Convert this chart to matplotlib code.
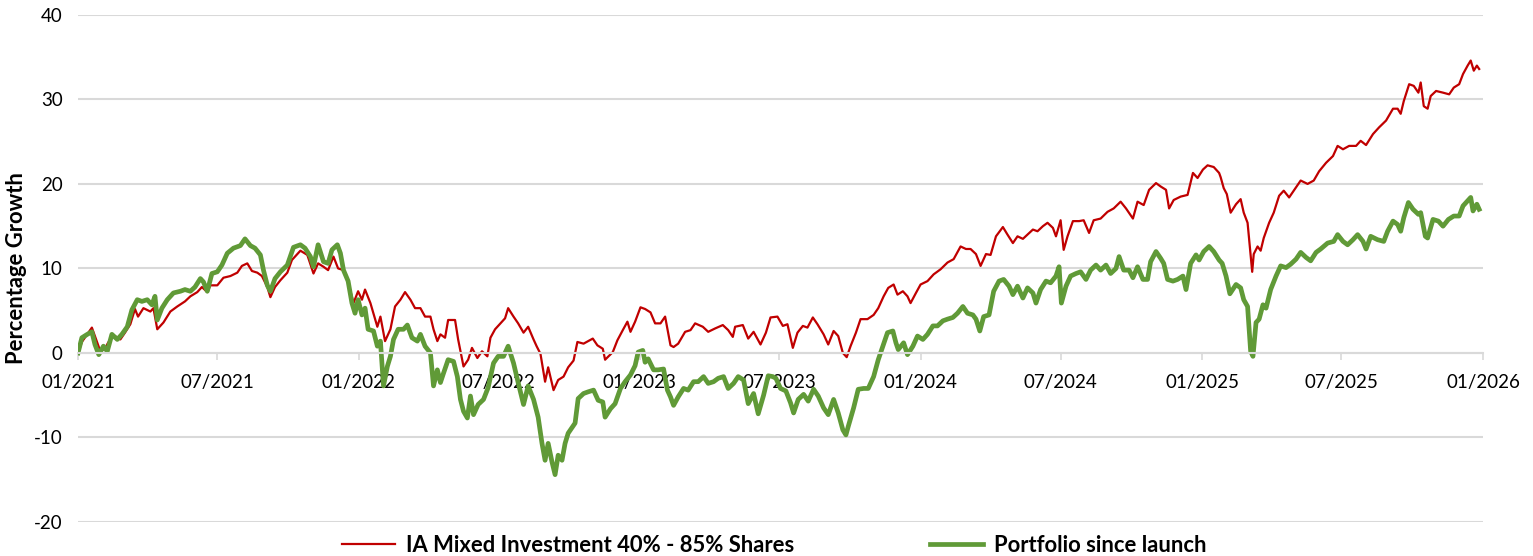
import pandas as pd
import matplotlib.pyplot as plt
import matplotlib.dates as mdates

# days since launch (01/01/2021) and percentage growth
ia_days = [0, 5, 18, 25, 29, 35, 39, 46, 55, 61, 68, 74, 78, 85, 94, 98, 103, 111, 120, 129,
           139, 146, 155, 161, 168, 172, 181, 189, 198, 207, 213, 220, 226, 233, 239, 246, 250, 256, 263, 272,
           278, 289, 298, 306, 312, 319, 325, 332, 338, 345, 351, 358, 364, 369, 373, 380, 389, 393, 399, 406,
           412, 419, 425, 432, 438, 445, 451, 458, 462, 467, 471, 477, 481, 490, 494, 501, 507, 512, 519, 525,
           532, 536, 542, 549, 555, 559, 566, 572, 579, 585, 592, 596, 601, 607, 611, 618, 624, 631, 637, 644,
           649, 657, 669, 675, 682, 685, 695, 701, 708, 714, 718, 724, 731, 737, 744, 750, 757, 763, 770, 774,
           780, 789, 796, 802, 812, 819, 828, 838, 845, 851, 854, 864, 871, 878, 887, 894, 900, 909, 916, 922,
           929, 935, 942, 948, 955, 961, 969, 975, 982, 988, 994, 999, 1004, 1011, 1017, 1026, 1034, 1040, 1047, 1053,
           1060, 1065, 1072, 1078, 1082, 1089, 1095, 1104, 1112, 1121, 1130, 1138, 1147, 1154, 1160, 1167, 1173, 1180, 1186, 1193,
           1202, 1208, 1215, 1221, 1228, 1234, 1241, 1247, 1254, 1260, 1267, 1271, 1277, 1281, 1286, 1293, 1301, 1307, 1314, 1320,
           1329, 1338, 1346, 1355, 1362, 1371, 1377, 1385, 1392, 1401, 1407, 1414, 1418, 1424, 1433, 1442, 1449, 1455, 1462, 1468,
           1476, 1483, 1485, 1489, 1493, 1498, 1505, 1511, 1515, 1520, 1526, 1528, 1533, 1537, 1541, 1548, 1554, 1561, 1567, 1574,
           1580, 1589, 1598, 1606, 1613, 1622, 1631, 1637, 1644, 1652, 1661, 1667, 1674, 1683, 1691, 1700, 1709, 1715, 1719, 1723,
           1730, 1736, 1742, 1745, 1749, 1754, 1758, 1765, 1774, 1782, 1788, 1795, 1800, 1806, 1810, 1814, 1818, 1821]
ia_values = [0, 1.3, 3.0, 1.2, 0.2, 0.5, 1.2, 2.1, 1.6, 2.4, 3.4, 5.2, 4.3, 5.3, 4.9, 5.3, 2.8, 3.6, 4.9, 5.5,
             6.1, 6.7, 7.2, 7.8, 7.2, 8.0, 8.0, 8.9, 9.1, 9.5, 10.3, 10.6, 9.7, 9.5, 9.1, 7.8, 6.6, 7.8, 8.6, 9.5,
             11.0, 12.1, 11.6, 9.4, 10.6, 10.2, 9.8, 11.4, 10.0, 9.8, 8.4, 5.9, 7.3, 6.3, 7.5, 5.9, 3.1, 4.3, 1.4, 2.8,
             5.5, 6.3, 7.2, 6.3, 5.3, 5.3, 4.3, 4.3, 2.8, 1.4, 2.2, 1.8, 3.9, 3.9, 1.6, -1.6, -0.8, 0.6, -0.6, 0.2,
             -0.4, 1.8, 2.8, 3.5, 4.1, 5.3, 4.3, 3.5, 2.4, 3.1, 1.6, 0.8, -0.1, -3.4, -1.7, -4.4, -3.2, -2.8, -1.7, -0.9,
             1.3, 1.1, 1.7, 0.9, 0.5, -0.8, 0.1, 1.5, 2.7, 3.7, 2.5, 3.7, 5.4, 5.2, 4.8, 3.5, 3.5, 4.3, 0.9, 0.7,
             1.1, 2.5, 2.7, 3.5, 3.1, 2.5, 2.9, 3.3, 2.7, 1.9, 3.1, 3.3, 1.7, 2.5, 1.0, 2.4, 4.2, 4.3, 3.2, 3.4,
             0.6, 2.4, 3.2, 3.0, 4.2, 3.4, 2.2, 1.0, 2.6, 2.0, 0.0, -0.5, 0.8, 2.4, 4.0, 4.0, 4.5, 5.3, 6.7, 7.7,
             8.1, 6.9, 7.3, 6.7, 5.9, 7.1, 8.1, 8.5, 9.3, 9.9, 10.7, 11.1, 12.6, 12.3, 12.3, 11.7, 10.3, 11.7, 11.6, 13.8,
             14.9, 14.0, 13.0, 13.8, 13.5, 14.0, 14.6, 14.4, 15.0, 15.4, 14.8, 13.8, 15.7, 12.2, 13.8, 15.6, 15.6, 15.7, 14.2, 15.7,
             15.9, 16.7, 17.1, 17.9, 17.1, 15.9, 17.9, 17.5, 19.3, 20.1, 19.7, 19.3, 17.1, 18.1, 18.5, 18.7, 21.3, 20.7, 21.7, 22.2,
             22.0, 21.3, 20.8, 19.5, 18.8, 16.6, 17.6, 18.2, 16.6, 15.4, 9.6, 11.7, 12.6, 12.1, 13.6, 15.4, 16.6, 18.6, 19.2, 18.4,
             19.2, 20.4, 20.0, 20.4, 21.5, 22.5, 23.3, 24.5, 24.1, 24.5, 24.5, 25.1, 24.6, 25.9, 26.7, 27.5, 28.9, 28.9, 28.3, 29.8,
             31.8, 31.6, 30.8, 32.0, 29.2, 28.9, 30.4, 31.0, 30.8, 30.6, 31.4, 31.8, 33.0, 34.0, 34.6, 33.4, 34.0, 33.6]

port_days = [0, 5, 12, 18, 22, 27, 33, 38, 44, 51, 57, 64, 70, 77, 83, 90, 96, 100, 103, 109,
             116, 124, 133, 139, 146, 152, 159, 163, 168, 174, 181, 187, 194, 202, 211, 217, 224, 230, 237, 241,
             246, 250, 256, 263, 272, 280, 289, 295, 302, 306, 312, 319, 325, 330, 337, 341, 345, 351, 356, 360,
             364, 369, 373, 377, 384, 389, 393, 397, 402, 406, 410, 416, 423, 428, 434, 441, 445, 451, 458, 462,
             467, 471, 475, 481, 488, 493, 497, 501, 506, 510, 514, 520, 527, 533, 540, 546, 553, 559, 566, 572,
             579, 585, 592, 598, 603, 607, 611, 616, 620, 624, 629, 633, 637, 643, 646, 650, 657, 663, 670, 676,
             682, 685, 692, 698, 705, 711, 718, 724, 728, 734, 737, 741, 748, 754, 761, 766, 770, 774, 780, 787,
             793, 800, 806, 813, 819, 826, 832, 839, 845, 852, 858, 865, 871, 878, 884, 891, 897, 903, 907, 913,
             920, 926, 930, 936, 943, 949, 956, 962, 969, 975, 982, 988, 994, 998, 1001, 1008, 1014, 1021, 1027, 1034,
             1040, 1046, 1052, 1059, 1063, 1066, 1073, 1078, 1085, 1091, 1098, 1104, 1111, 1117, 1124, 1130, 1137, 1143, 1150, 1156,
             1163, 1167, 1172, 1177, 1184, 1190, 1197, 1203, 1210, 1215, 1221, 1228, 1234, 1241, 1245, 1251, 1258, 1264, 1271, 1275,
             1278, 1284, 1290, 1297, 1303, 1310, 1316, 1323, 1329, 1336, 1342, 1349, 1353, 1359, 1366, 1371, 1377, 1384, 1390, 1394,
             1401, 1407, 1411, 1416, 1423, 1429, 1436, 1440, 1446, 1453, 1457, 1463, 1470, 1476, 1483, 1487, 1492, 1497, 1505, 1511,
             1515, 1520, 1524, 1527, 1531, 1535, 1540, 1544, 1550, 1557, 1563, 1570, 1576, 1583, 1589, 1596, 1602, 1609, 1615, 1624,
             1632, 1637, 1644, 1650, 1657, 1663, 1670, 1674, 1680, 1689, 1697, 1702, 1709, 1715, 1719, 1723, 1729, 1735, 1742, 1745,
             1751, 1754, 1761, 1768, 1774, 1781, 1788, 1795, 1800, 1806, 1810, 1813, 1818, 1821]
port_values = [0, 1.8, 2.2, 2.5, 1.0, -0.2, 0.8, 0.2, 2.2, 1.6, 2.2, 3.1, 5.1, 6.3, 6.1, 6.3, 5.7, 6.7, 3.9, 5.3,
               6.3, 7.1, 7.3, 7.5, 7.3, 7.8, 8.8, 8.4, 7.3, 9.4, 9.6, 10.4, 11.8, 12.4, 12.7, 13.5, 12.7, 12.4, 11.6, 9.8,
               8.0, 7.3, 8.8, 9.6, 10.4, 12.5, 12.8, 12.4, 11.4, 10.2, 12.8, 10.8, 10.6, 12.2, 12.8, 11.8, 9.8, 8.5, 5.9, 4.7,
               6.3, 4.5, 5.3, 2.8, 2.6, 0.8, 1.4, -3.9, -1.6, -0.4, 1.6, 2.8, 2.8, 3.3, 1.8, 1.4, 2.2, 0.8, 0.0, -3.9,
               -2.0, -3.5, -2.4, -0.8, -1.0, -2.8, -5.5, -6.9, -7.7, -5.1, -7.3, -6.1, -5.5, -4.1, -1.2, -0.4, -0.4, 0.8, -1.2, -3.5,
               -6.1, -3.9, -5.5, -7.6, -10.7, -12.7, -10.7, -12.9, -14.4, -12.1, -12.7, -10.7, -9.5, -8.7, -8.3, -5.4, -4.8, -4.6, -4.4, -5.6,
               -5.8, -7.6, -6.6, -6.0, -4.2, -3.4, -2.6, -1.5, 0.1, 0.3, -1.1, -0.7, -2.0, -2.0, -1.9, -4.4, -5.2, -6.2, -5.2, -4.2,
               -4.4, -3.4, -3.4, -2.8, -3.6, -3.4, -3.0, -2.8, -4.2, -3.6, -2.8, -3.2, -6.0, -4.8, -7.2, -5.0, -2.7, -2.8, -3.0, -4.2,
               -4.5, -5.9, -7.1, -5.5, -4.9, -5.7, -4.3, -5.1, -6.5, -7.3, -5.5, -7.1, -9.1, -9.7, -8.7, -6.5, -4.3, -4.2, -4.2, -2.8,
               -0.8, 0.8, 2.4, 2.6, 1.2, 0.4, 1.2, -0.2, 0.8, 2.0, 1.6, 2.2, 3.2, 3.2, 3.8, 4.0, 4.2, 4.7, 5.5, 4.7,
               4.5, 4.0, 2.6, 4.3, 4.5, 7.3, 8.5, 8.7, 7.9, 6.9, 7.9, 6.5, 7.7, 7.1, 5.9, 7.5, 8.5, 8.3, 9.1, 10.2,
               5.9, 7.9, 9.1, 9.4, 9.6, 8.7, 9.8, 10.4, 9.8, 10.4, 9.4, 10.0, 11.4, 9.8, 9.8, 8.9, 10.2, 8.7, 8.7, 10.8,
               12.0, 11.2, 10.6, 8.7, 8.5, 8.7, 9.1, 7.5, 10.6, 11.6, 11.0, 12.0, 12.6, 12.0, 11.0, 10.6, 9.1, 7.0, 8.1, 7.7,
               6.3, 5.5, 0.2, -0.4, 3.6, 4.0, 5.7, 5.3, 7.5, 9.1, 10.3, 10.1, 10.5, 11.1, 11.9, 11.3, 10.9, 11.9, 12.3, 13.0,
               13.2, 14.0, 13.2, 12.8, 13.4, 14.0, 13.2, 12.3, 13.8, 13.4, 13.2, 14.4, 15.6, 15.2, 14.4, 16.0, 17.8, 17.0, 16.4, 16.6,
               13.8, 13.6, 15.8, 15.6, 15.0, 15.8, 16.2, 16.2, 17.4, 18.0, 18.4, 16.8, 17.6, 17.0]

launch = pd.Timestamp("2021-01-01")
ia = pd.DataFrame({"Date": launch + pd.to_timedelta(ia_days, unit="D"), "Growth": ia_values})
portfolio = pd.DataFrame({"Date": launch + pd.to_timedelta(port_days, unit="D"), "Growth": port_values})

plt.rcParams['font.family'] = ['Lato', 'DejaVu Sans']
plt.rcParams['axes.unicode_minus'] = False

fig = plt.figure(figsize=(15.33, 5.56), dpi=100)
ax = fig.add_axes([0.0509, 0.0612, 0.9165, 0.912])

ax.plot(ia["Date"], ia["Growth"], color="#C00000", lw=1.6, label="IA Mixed Investment 40% - 85% Shares")
ax.plot(portfolio["Date"], portfolio["Growth"], color="#609A37", lw=3.4, label="Portfolio since launch")

ax.set_ylim(-20, 40)
ax.set_yticks(range(-20, 41, 10))
ax.set_xlim(pd.Timestamp("2021-01-01"), pd.Timestamp("2026-01-01"))
ax.xaxis.set_major_locator(mdates.MonthLocator(bymonth=[1, 7]))
ax.xaxis.set_major_formatter(mdates.DateFormatter("%m/%Y"))

# grid + zero line
ax.grid(axis="y", color="#d9d9d9", lw=1.5)
ax.set_axisbelow(True)
for side in ["top", "right", "left"]:
    ax.spines[side].set_visible(False)
ax.spines["bottom"].set_position(("data", 0))
ax.spines["bottom"].set_color("#d9d9d9")
ax.spines["bottom"].set_linewidth(1.5)
ax.tick_params(axis="x", length=5, width=1.2, color="#d9d9d9", labelsize=13.5, pad=10)
ax.tick_params(axis="y", length=0, labelsize=13.5, pad=11)

ax.set_ylabel("Percentage Growth", fontsize=15.8, fontweight="bold")
ax.yaxis.set_label_coords(-0.0363, 0.5)

fig.legend(loc="center", bbox_to_anchor=(0.505, 0.019), ncol=2, frameon=False,
           prop={"weight": "bold", "size": 15.8}, handlelength=2.4, handletextpad=0.5,
           columnspacing=6.2)

fig.savefig("out.png", dpi=100)
